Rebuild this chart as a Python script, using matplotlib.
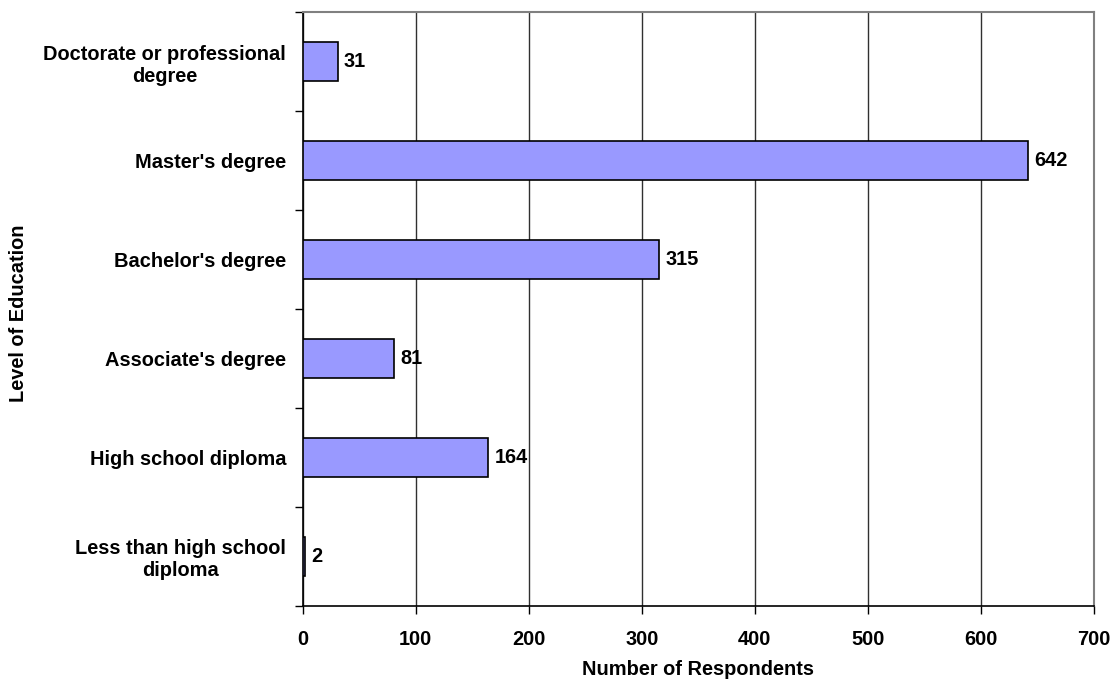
import matplotlib
matplotlib.use("Agg")
import matplotlib.pyplot as plt
import numpy as np

categories = ["Less than high school\ndiploma", "High school diploma", "Associate's degree",
              "Bachelor's degree", "Master's degree", "Doctorate or professional\ndegree"]
values = [2, 164, 81, 315, 642, 31]
xticks = [0, 100, 200, 300, 400, 500, 600, 700]

plt.rcParams['font.family'] = ['Liberation Sans', 'DejaVu Sans']
plt.rcParams['font.weight'] = 'bold'

FS = 14.4
fig = plt.figure(figsize=(11.14, 6.81), dpi=100)
ax = fig.add_axes([302.7/1114, 1 - 606/681, (1094-302.7)/1114, (606-12)/681])

y = np.arange(len(categories))
ax.barh(y, values, height=0.4, color="#9999FF", edgecolor="black", linewidth=1.2, zorder=3)
for yi, v in zip(y, values):
    ax.annotate(str(v), xy=(v, yi), xytext=(4.5, 0), textcoords="offset points",
                va="center", ha="left", fontsize=FS, fontweight="bold", zorder=4)

ax.set_xlim(0, 700)
ax.set_ylim(-0.5, len(categories) - 0.5)
ax.set_xticks(xticks)
ax.set_xticklabels([str(t) for t in xticks], fontsize=FS, fontweight="bold")
ax.xaxis.grid(True, color="#303030", linewidth=1.0, zorder=0)
ax.set_axisbelow(True)

ax.set_yticks(y)
ax.set_yticklabels(categories, fontsize=FS, fontweight="bold", multialignment="center",
                   linespacing=1.2)
ax.tick_params(axis="y", length=0, pad=12)
ax.set_yticks(np.arange(-0.5, len(categories), 1.0), minor=True)
ax.tick_params(axis="y", which="minor", length=6, width=1, direction="out")
ax.tick_params(axis="x", length=6, width=1, direction="out", pad=11)

for s in ["left", "bottom"]:
    ax.spines[s].set_color("black")
    ax.spines[s].set_linewidth(1.2)
for s in ["top", "right"]:
    ax.spines[s].set_color("#808080")
    ax.spines[s].set_linewidth(1.5)

ax.set_xlabel("Number of Respondents", fontsize=FS, fontweight="bold", labelpad=8.5)
fig.text(19/1114, 1 - 313/681, "Level of Education", rotation=90, va="center", ha="center",
         fontsize=FS, fontweight="bold")

fig.savefig("out.png", dpi=100)
